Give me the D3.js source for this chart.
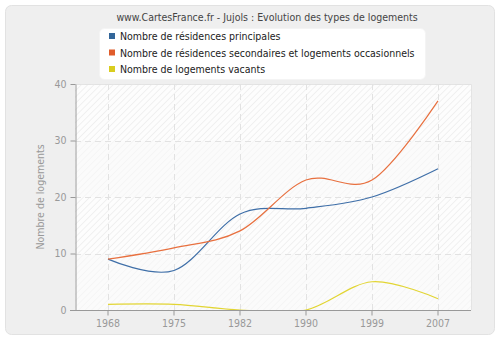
<!DOCTYPE html>
<html><head><meta charset="utf-8">
<script src="https://cdn.jsdelivr.net/npm/d3@7"></script>
<style>body{margin:0;background:#fff}svg{display:block}text{font-family:"DejaVu Sans Condensed","DejaVu Sans",sans-serif}</style>
</head><body><svg id="c" width="500" height="340"></svg>
<script>
const title = "www.CartesFrance.fr - Jujols : Evolution des types de logements";
const years = ["1968","1975","1982","1990","1999","2007"];
const principales = [9, 7, 17, 18, 20, 25];
const secondaires = [9, 11, 14, 23, 23, 37];
const vacants = [1, 1, 0, 0, 5, 2];
const seriesNames = ["Nombre de résidences principales","Nombre de résidences secondaires et logements occasionnels","Nombre de logements vacants"];
const colors = ["#3f6fa8","#e8703f","#e2d533"];
const markerColors = ["#336699","#e05c2b","#d9cd1f"];
const yTicks = [0,10,20,30,40];
const yLabel = "Nombre de logements";

const svg = d3.select("#c");
const defs = svg.append("defs");
const pat = defs.append("pattern").attr("id","hatch").attr("patternUnits","userSpaceOnUse")
  .attr("width",4.5).attr("height",4.5).attr("patternTransform","rotate(45)");
pat.append("rect").attr("width",4.5).attr("height",4.5).attr("fill","#fdfdfd");
pat.append("line").attr("x1",0).attr("y1",0).attr("x2",0).attr("y2",4.5).attr("stroke","#e8e8e8").attr("stroke-width",1.2);

svg.append("rect").attr("x",5.5).attr("y",5.5).attr("width",489).attr("height",329).attr("rx",6)
  .attr("fill","#efefef").attr("stroke","#e2e2e2");

const L=75,R=471,T=84,B=310;
const x = d3.scaleBand().domain(years).range([L,R]).padding(0);
const y = d3.scaleLinear().domain([0,40]).range([B,T]);
const cx = d => x(d)+x.bandwidth()/2;

defs.append("clipPath").attr("id","clip").append("rect").attr("x",L).attr("y",T-2).attr("width",R-L).attr("height",B-T+2);

svg.append("rect").attr("x",L).attr("y",T).attr("width",R-L).attr("height",B-T).attr("fill","url(#hatch)");
[[30,20],[10,0]].forEach(([a,b])=>{
  svg.append("rect").attr("x",L).attr("y",y(a)).attr("width",R-L).attr("height",y(b)-y(a)).attr("fill","#fafafa").attr("opacity",0.55);
});
svg.append("path").attr("d",`M${L},${T}.5H${R}.5V${B}`).attr("fill","none").attr("stroke","#e4e4e4");

// grid
svg.append("g").selectAll("line").data(yTicks.filter(t=>t>0)).join("line")
  .attr("x1",L).attr("x2",R).attr("y1",d=>Math.round(y(d))+0.5).attr("y2",d=>Math.round(y(d))+0.5)
  .attr("stroke","#e2e2e2").attr("stroke-dasharray","6,4");
svg.append("g").selectAll("line").data(years).join("line")
  .attr("x1",d=>Math.round(cx(d))+0.5).attr("x2",d=>Math.round(cx(d))+0.5).attr("y1",T).attr("y2",B)
  .attr("stroke","#e2e2e2").attr("stroke-dasharray","6,4");

// lines
const line = d3.line().x((d,i)=>cx(years[i])).y(d=>y(d)).curve(d3.curveCardinal.tension(0));
const g = svg.append("g").attr("clip-path","url(#clip)");
[principales,secondaires,vacants].forEach((s,i)=>{
  g.append("path").attr("d",line(s)).attr("fill","none").attr("stroke",colors[i]).attr("stroke-width",1.2);
});

// axes
const axCol="#999";
const yAx = svg.append("g").attr("transform",`translate(${L+0.5},0)`)
  .call(d3.axisLeft(y).tickValues(yTicks).tickSize(5).tickPadding(4).tickSizeOuter(0));
const xAx = svg.append("g").attr("transform",`translate(0,${B+0.5})`)
  .call(d3.axisBottom(x).tickSize(5).tickPadding(4).tickSizeOuter(0));
[yAx,xAx].forEach(a=>{
  a.select(".domain").attr("stroke",axCol);
  a.selectAll(".tick line").attr("stroke",axCol);
  a.selectAll("text").attr("fill","#999").style("font-size","10.5px").style("font-family",'"DejaVu Sans Condensed","DejaVu Sans",sans-serif');
});
xAx.select(".domain").attr("d",`M${L-5},0H${R}`);

svg.append("text").attr("transform",`translate(44,${(T+B)/2}) rotate(-90)`).attr("text-anchor","middle")
  .attr("fill","#999").style("font-size","10.5px").text(yLabel);

// title
svg.append("text").attr("x",267).attr("y",21).attr("text-anchor","middle").attr("fill","#444")
  .style("font-size","10.5px").text(title);

// legend
svg.append("rect").attr("x",99.5).attr("y",28.5).attr("width",326).attr("height",51).attr("rx",5)
  .attr("fill","#fff").attr("stroke","#f4f4f4");
seriesNames.forEach((n,i)=>{
  const yy = 36 + i*16.5;
  svg.append("rect").attr("x",109).attr("y",yy-3).attr("width",6).attr("height",6).attr("fill",markerColors[i]);
  svg.append("text").attr("x",120).attr("y",yy+4).attr("fill","#222").style("font-size","10.5px").text(n);
});
</script></body></html>
